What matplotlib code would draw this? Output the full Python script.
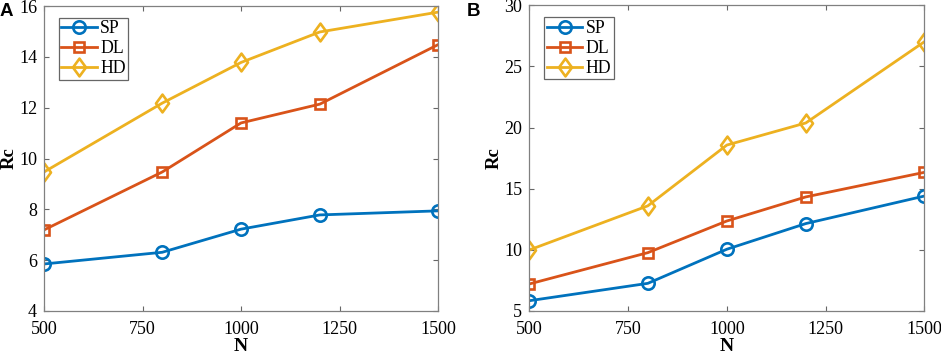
import numpy as np
import matplotlib
matplotlib.use("Agg")
from matplotlib import pyplot as plt
from matplotlib.path import Path

# data
N = [500, 800, 1000, 1200, 1500]

sp_a = [5.85, 6.31, 7.22, 7.78, 7.94]
dl_a = [7.19, 9.47, 11.40, 12.14, 14.48]
hd_a = [9.47, 12.18, 13.78, 14.98, 15.76]

sp_b = [5.84, 7.26, 10.05, 12.15, 14.40]
dl_b = [7.21, 9.77, 12.36, 14.33, 16.34]
hd_b = [9.99, 13.60, 18.57, 20.38, 27.02]

names = ['SP', 'DL', 'HD']
colors = ['#0072BD', '#D95319', '#EDB120']

# matlab style diamond is a bit taller than wide
diamond = Path([(0, 1), (0.73, 0), (0, -1), (-0.73, 0), (0, 1)],
               [Path.MOVETO, Path.LINETO, Path.LINETO, Path.LINETO, Path.CLOSEPOLY])
markers = ['o', 's', diamond]
msizes = [8.9, 7.7, 12.8]

plt.rcParams['font.family'] = ['Liberation Serif', 'DejaVu Serif']
plt.rcParams['font.size'] = 13

fig = plt.figure(figsize=(9.41, 3.55), dpi=100)
axA = fig.add_axes([0.0468, 0.124, 0.4187, 0.859])
axB = fig.add_axes([0.5625, 0.124, 0.4198, 0.861])


def draw(ax, series, ylim, yticks):
    for vals, name, c, m, ms in zip(series, names, colors, markers, msizes):
        ax.plot(N, vals, color=c, lw=2, marker=m, markersize=ms,
                markerfacecolor='none', markeredgewidth=1.9, label=name)
    ax.set_xlim(500, 1500)
    ax.set_ylim(*ylim)
    ax.set_xticks([500, 750, 1000, 1250, 1500])
    ax.set_yticks(yticks)
    ax.tick_params(axis='x', pad=7)
    ax.tick_params(direction='in', top=True, right=True, length=3.5,
                   color='#666666', labelsize=13)
    ax.tick_params(axis='y', pad=5)
    for s in ax.spines.values():
        s.set_color('#808080')
        s.set_linewidth(0.9)
    ax.set_xlabel('N', fontweight='bold', fontsize=14, labelpad=0.5)
    ax.set_ylabel('Rc', fontweight='bold', fontsize=13.5, labelpad=1)
    leg = ax.legend(loc='upper left', bbox_to_anchor=(0.038, 0.961),
                    fontsize=12.8, handlelength=2.0, handletextpad=0.17,
                    labelspacing=0.17, borderpad=0.14, fancybox=False,
                    framealpha=1, borderaxespad=0)
    leg.get_frame().set_edgecolor('#666666')
    leg.get_frame().set_linewidth(0.9)


draw(axA, [sp_a, dl_a, hd_a], (4, 16), np.arange(4, 17, 2))
draw(axB, [sp_b, dl_b, hd_b], (5, 30), np.arange(5, 31, 5))

fig.text(0.0, 0.955, 'A', fontsize=13.5, fontweight='bold', family='Liberation Sans', va='baseline')
fig.text(0.496, 0.955, 'B', fontsize=13.5, fontweight='bold', family='Liberation Sans', va='baseline')

fig.savefig('out.png', dpi=100)
